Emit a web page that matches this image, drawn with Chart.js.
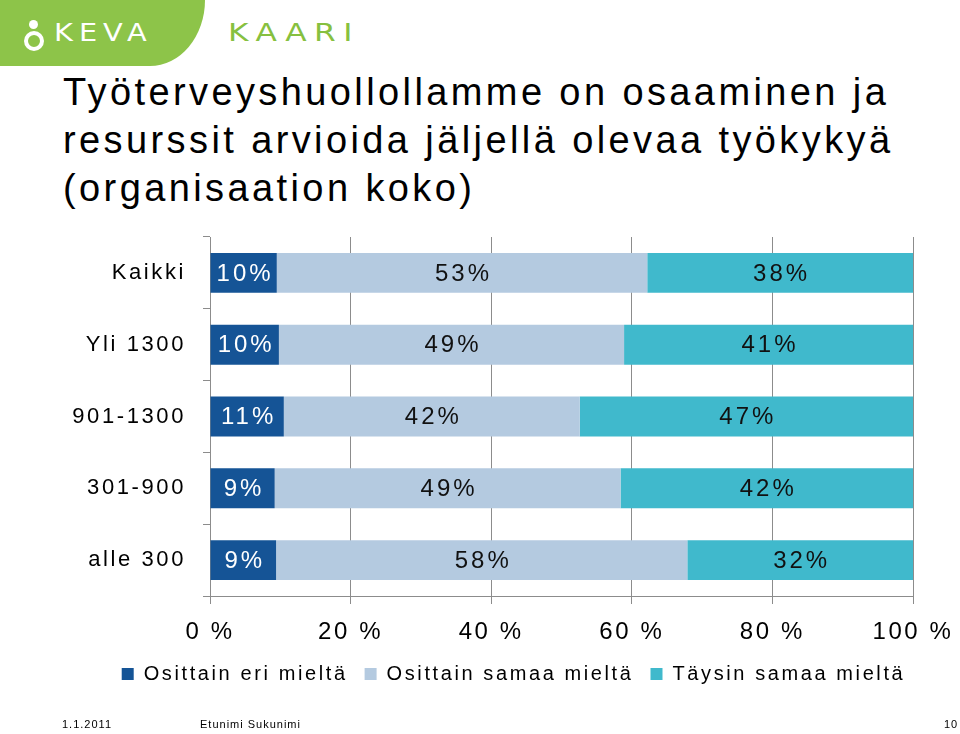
<!DOCTYPE html>
<html>
<head>
<meta charset="utf-8">
<script src="https://cdn.jsdelivr.net/npm/chart.js@4.4.1/dist/chart.umd.min.js"></script>
<style>
  html, body {
    margin: 0;
    padding: 0;
    width: 960px;
    height: 734px;
    overflow: hidden;
    background: #fff;
    font-family: "Liberation Sans", Arial, sans-serif;
  }
  .logo-bg {
    position: absolute; left: 0; top: 0;
    width: 205px; height: 66px;
    background: #8dc449;
    border-bottom-right-radius: 55px 66px;
  }
  .keva-head {
    position: absolute; left: 29px; top: 20px;
    width: 9px; height: 9px; border-radius: 50%; background: #fff;
  }
  .keva-body {
    position: absolute; left: 24px; top: 31px;
    width: 12px; height: 12px; border-radius: 50%;
    border: 4px solid #fff;
  }
  .keva-text {
    position: absolute; left: 54px; top: 19px;
    font-size: 24px; color: #fff; letter-spacing: 5px;
    font-family: "DejaVu Sans", sans-serif;
    transform: scaleX(1.2); transform-origin: left top;
  }
  .kaari {
    position: absolute; left: 228px; top: 18px;
    font-size: 25px; color: #86c040; letter-spacing: 6px;
    font-family: "DejaVu Sans", sans-serif;
    transform: scaleX(1.25); transform-origin: left top;
  }
  .title {
    position: absolute; left: 63px; top: 68px;
    font-size: 38px; line-height: 48px; letter-spacing: 3.4px;
    color: #000; white-space: nowrap;
  }
  .footer {
    position: absolute; top: 718px;
    font-size: 11px; letter-spacing: 1px; color: #000;
  }
  #chart { position: absolute; left: 0; top: 0; }
</style>
</head>
<body>
<div class="logo-bg"></div>
<div class="keva-head"></div>
<div class="keva-body"></div>
<div class="keva-text">KEVA</div>
<div class="kaari">KAARI</div>

<div class="title">Työterveyshuollollamme on osaaminen ja<br>resurssit arvioida jäljellä olevaa työkykyä<br>(organisaation koko)</div>

<canvas id="chart" width="972" height="734"></canvas>

<div class="footer" style="left:62px">1.1.2011</div>
<div class="footer" style="left:200px">Etunimi Sukunimi</div>
<div class="footer" style="left:944px">10</div>

<script>
/* ===== DATA ===== */
const categories = ["Kaikki", "Yli 1300", "901-1300", "301-900", "alle 300"];
const seriesNames = ["Osittain eri mieltä", "Osittain samaa mieltä", "Täysin samaa mieltä"];

// segment widths (% of the row)
const osittainEri = [9.5, 9.8, 10.5, 9.2, 9.4];
const osittainSamaa = [52.7, 49.1, 42.1, 49.2, 58.5];
const taysinSamaa = [37.8, 41.1, 47.4, 41.6, 32.1];

// printed labels inside the bars
const osittainEriLabels = ["10%", "10%", "11%", "9%", "9%"];
const osittainSamaaLabels = ["53%", "49%", "42%", "49%", "58%"];
const taysinSamaaLabels = ["38%", "41%", "47%", "42%", "32%"];

const xTicks = [0, 20, 40, 60, 80, 100];

const colors = ["#155496", "#b4cae0", "#40b9cc"];
const segmentTexts = [osittainEriLabels, osittainSamaaLabels, taysinSamaaLabels];

/* ===== PLUGINS ===== */
const spacingPlugin = {
  id: "spacing",
  beforeUpdate(chart) { chart.ctx.letterSpacing = "2.6px"; },
  beforeDraw(chart) { chart.ctx.letterSpacing = "2.6px"; }
};

const segmentLabels = {
  id: "segmentLabels",
  afterDatasetsDraw(chart) {
    const ctx = chart.ctx;
    ctx.save();
    ctx.font = "24px 'Liberation Sans', Arial, sans-serif";
    ctx.letterSpacing = "3px";
    ctx.textAlign = "center";
    ctx.textBaseline = "middle";
    chart.data.datasets.forEach((ds, i) => {
      chart.getDatasetMeta(i).data.forEach((bar, j) => {
        ctx.fillStyle = i === 0 ? "#ffffff" : "#111111";
        ctx.fillText(segmentTexts[i][j], (bar.x + bar.base) / 2 + 1.5, bar.y + 1);
      });
    });
    ctx.restore();
  }
};

/* ===== CHART ===== */
const gridColor = "#8c8c8c";
const labelFont = "'Liberation Sans', Arial, sans-serif";

new Chart(document.getElementById("chart"), {
  type: "bar",
  data: {
    labels: categories,
    datasets: [
      { label: seriesNames[0], data: osittainEri, backgroundColor: colors[0] },
      { label: seriesNames[1], data: osittainSamaa, backgroundColor: colors[1] },
      { label: seriesNames[2], data: taysinSamaa, backgroundColor: colors[2] }
    ].map(ds => Object.assign(ds, { borderWidth: 0, categoryPercentage: 1, barPercentage: 0.556 }))
  },
  options: {
    indexAxis: "y",
    responsive: false,
    animation: false,
    layout: { padding: { left: 55, right: 0, top: 237, bottom: 40 } },
    scales: {
      x: {
        stacked: true,
        min: 0,
        max: 100,
        afterBuildTicks: scale => { scale.ticks = xTicks.map(v => ({ value: v })); },
        afterFit: scale => { scale.height = 51; },
        grid: { color: gridColor, tickLength: 8, lineWidth: 1 },
        border: { color: gridColor },
        ticks: {
          color: "#000",
          padding: 14,
          maxRotation: 0,
          autoSkip: false,
          font: { family: labelFont, size: 24 },
          callback: v => v + " %"
        }
      },
      y: {
        stacked: true,
        afterFit: scale => { scale.width = 155; },
        grid: { offset: true, drawOnChartArea: false, color: gridColor, tickLength: 7 },
        border: { color: gridColor },
        ticks: {
          color: "#000",
          padding: 17,
          font: { family: labelFont, size: 22 }
        }
      },
      // empty spacer on the right so the legend row sits where it does in the picture
      spacer: {
        axis: "y",
        position: "right",
        afterFit: scale => { scale.width = 59; },
        grid: { display: false },
        border: { display: false },
        ticks: { display: false }
      }
    },
    plugins: {
      tooltip: { enabled: false },
      legend: {
        position: "bottom",
        labels: {
          boxWidth: 12,
          boxHeight: 12,
          padding: 17,
          color: "#000",
          font: { family: labelFont, size: 20 }
        }
      }
    }
  },
  plugins: [spacingPlugin, segmentLabels]
});
</script>
</body>
</html>
